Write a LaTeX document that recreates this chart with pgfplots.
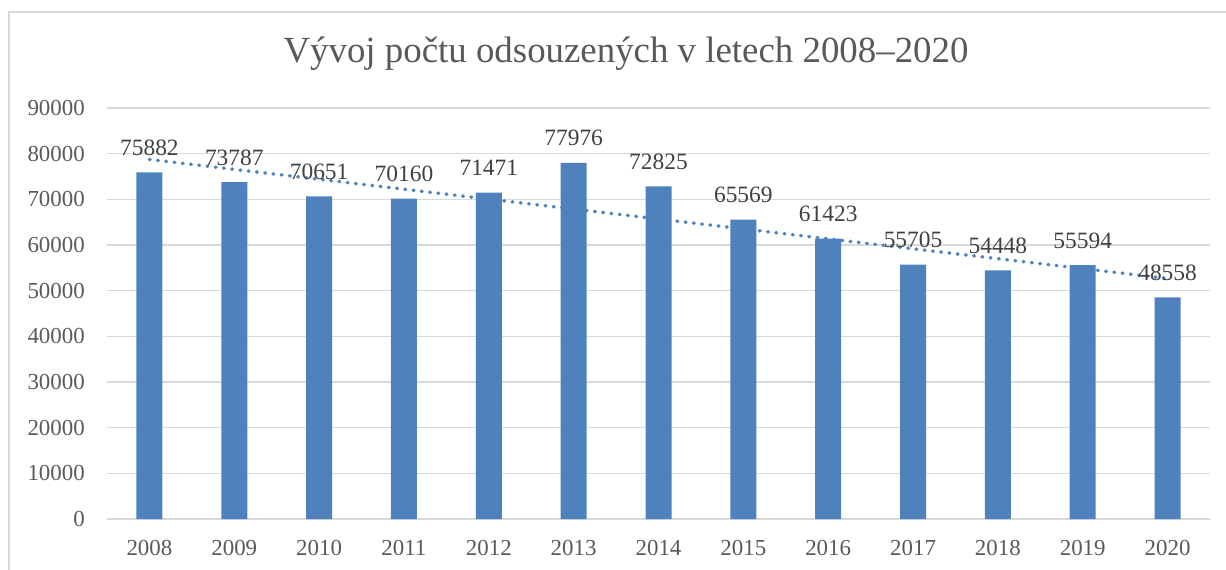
\documentclass[border=0pt]{standalone}
\usepackage{pgfplots}
\pgfplotsset{compat=1.18}
\usepackage{pgfplotstable}
\usepackage{fontspec}
\setmainfont{Liberation Serif}
\definecolor{barblue}{HTML}{4F81BD}
\definecolor{txt}{HTML}{595959}
\definecolor{lbl}{HTML}{404040}
\definecolor{gridc}{HTML}{D9D9D9}
\pgfplotstableread{
x y
0 75882
1 73787
2 70651
3 70160
4 71471
5 77976
6 72825
7 65569
8 61423
9 55705
10 54448
11 55594
12 48558
}\data
\begin{document}
\begin{tikzpicture}
\useasboundingbox (0bp,0bp) rectangle (1226bp,570bp);
\begin{scope}
\clip (0bp,0bp) rectangle (1226bp,570bp);
\draw[color=gridc, line width=1.5bp] (9bp,-20bp) rectangle (1250bp,558bp);
\end{scope}
\node[text=txt, font=\fontsize{37}{41}\selectfont, inner sep=0pt] at (626bp,516bp) {Vývoj počtu odsouzených v letech 2008–2020};
\begin{axis}[
  at={(107bp,51bp)}, anchor=south west,
  scale only axis, width=1103bp, height=411bp,
  xmin=-0.5, xmax=12.5, ymin=0, ymax=90000,
  ytick={0,10000,...,90000},
  xtick={0,...,12},
  xticklabels={2008,2009,2010,2011,2012,2013,2014,2015,2016,2017,2018,2019,2020},
  axis line style={draw=none},
  major tick length=0pt,
  ymajorgrids,
  grid style={color=gridc, line width=1.3bp},
  scaled y ticks=false,
  tick label style={text=txt, font=\fontsize{23}{26}\selectfont, inner sep=0pt},
  /pgf/number format/1000 sep={},
  /pgf/number format/assume math mode=true,
  yticklabel style={anchor=east, xshift=-22bp},
  xticklabel style={anchor=north, yshift=-21bp},
  clip=false,
]
\addplot[sharp plot, no markers, color=barblue, line width=3.6bp, line cap=round, dash pattern=on 0.6bp off 7.7bp]
  table[x=x, y={create col/linear regression={y=y}}] {\data};
\addplot[ybar, bar width=26bp, fill=barblue, draw=none,
  nodes near coords,
  every node near coord/.append style={text=lbl, font=\fontsize{23.5}{26}\selectfont, anchor=south, inner sep=0pt, yshift=16.5bp, /pgf/number format/1000 sep={}, /pgf/number format/assume math mode=true}
] table[x=x, y=y] {\data};
\end{axis}
\end{tikzpicture}
\end{document}
